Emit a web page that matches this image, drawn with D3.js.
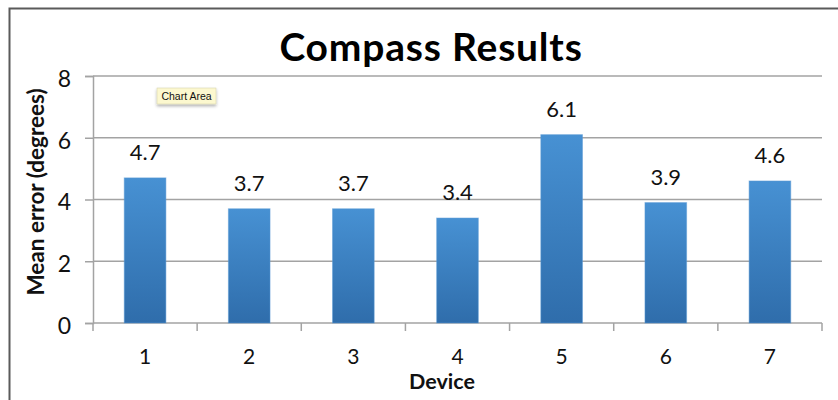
<!DOCTYPE html>
<html>
<head>
<meta charset="utf-8">
<script src="https://cdn.jsdelivr.net/npm/d3@7"></script>
<style>
  html, body { margin: 0; padding: 0; background: #fff; }
  svg { display: block; }
  text { font-family: Lato, "Open Sans", sans-serif; }
</style>
</head>
<body>
<svg id="chart" width="838" height="400"></svg>
<script>
// Compass results: mean heading error per device
const devices = ["1", "2", "3", "4", "5", "6", "7"];
const meanError = [4.7, 3.7, 3.7, 3.4, 6.1, 3.9, 4.6];
const yTicks = [0, 2, 4, 6, 8];

const W = 838, H = 400;
const margin = { left: 93, right: 16, top: 76, bottom: 77 };
const svg = d3.select("#chart");

// frame around the chart area
svg.append("path")
  .attr("d", `M9.5,${H} V8.5 H${W}`)
  .attr("fill", "none")
  .attr("stroke", "#5a5a5a")
  .attr("stroke-width", 2);

const x = d3.scaleBand()
  .domain(devices)
  .range([margin.left, W - margin.right])
  .paddingInner(0.6)
  .paddingOuter(0.3);

const y = d3.scaleLinear()
  .domain([0, 8])
  .range([H - margin.bottom, margin.top]);

// bar fill gradient
const defs = svg.append("defs");
const grad = defs.append("linearGradient")
  .attr("id", "barFill")
  .attr("x1", 0).attr("y1", 0).attr("x2", 0).attr("y2", 1);
grad.append("stop").attr("offset", "0%").attr("stop-color", "#4791d3");
grad.append("stop").attr("offset", "100%").attr("stop-color", "#2f6dab");

// horizontal gridlines
svg.append("g")
  .selectAll("line")
  .data(yTicks.filter(d => d > 0))
  .join("line")
  .attr("x1", margin.left)
  .attr("x2", W - margin.right)
  .attr("y1", d => y(d))
  .attr("y2", d => y(d))
  .attr("stroke", "#a3a3a3")
  .attr("stroke-width", 1.5);

// y axis
const yAxis = svg.append("g")
  .attr("transform", `translate(${margin.left},0)`)
  .call(d3.axisLeft(y).tickValues(yTicks).tickSize(8).tickPadding(14));
yAxis.select(".domain").attr("stroke", "#a3a3a3").attr("stroke-width", 1.5);
yAxis.selectAll(".tick line").attr("stroke", "#a3a3a3").attr("stroke-width", 1.5);
yAxis.selectAll(".tick text")
  .attr("font-size", 23)
  .attr("fill", "#111")
  .attr("dy", "0.45em")
  .style("font-family", "Lato, sans-serif");

// x axis: ticks at category boundaries
const xAxisG = svg.append("g")
  .attr("transform", `translate(0,${y(0)})`);
xAxisG.append("line")
  .attr("x1", margin.left)
  .attr("x2", W - margin.right)
  .attr("stroke", "#a3a3a3")
  .attr("stroke-width", 1.5);
const boundaries = devices.map(d => x(d) - x.step() * x.paddingOuter())
  .concat([W - margin.right]);
xAxisG.selectAll("line.tk")
  .data(boundaries)
  .join("line")
  .attr("class", "tk")
  .attr("x1", d => d).attr("x2", d => d)
  .attr("y1", 0).attr("y2", 8)
  .attr("stroke", "#a3a3a3")
  .attr("stroke-width", 1.5);
xAxisG.selectAll("text.lbl")
  .data(devices)
  .join("text")
  .attr("class", "lbl")
  .attr("x", d => x(d) + x.bandwidth() / 2)
  .attr("y", 40.5)
  .attr("text-anchor", "middle")
  .attr("font-size", 21)
  .attr("fill", "#111")
  .text(d => d);

// bars
svg.append("g")
  .selectAll("rect")
  .data(meanError)
  .join("rect")
  .attr("x", (d, i) => x(devices[i]))
  .attr("width", x.bandwidth())
  .attr("y", d => y(d))
  .attr("height", d => y(0) - y(d))
  .attr("fill", "url(#barFill)")
  .attr("stroke", "#5a9ad6")
  .attr("stroke-opacity", 0.5)
  .attr("stroke-width", 1);

// value labels
svg.append("g")
  .selectAll("text")
  .data(meanError)
  .join("text")
  .attr("x", (d, i) => x(devices[i]) + x.bandwidth() / 2)
  .attr("y", d => y(d) - 18)
  .attr("text-anchor", "middle")
  .attr("font-size", 22)
  .attr("fill", "#111")
  .text(d => d.toFixed(1));

// title
svg.append("text")
  .attr("x", 431)
  .attr("y", 61)
  .attr("text-anchor", "middle")
  .attr("font-size", 39)
  .attr("letter-spacing", 0.8)
  .attr("font-weight", "bold")
  .attr("fill", "#000")
  .text("Compass Results");

// axis titles
svg.append("text")
  .attr("x", 442)
  .attr("y", 389)
  .attr("text-anchor", "middle")
  .attr("font-size", 21.5)
  .attr("font-weight", "bold")
  .attr("fill", "#111")
  .text("Device");

svg.append("text")
  .attr("transform", `translate(44,${192}) rotate(-90)`)
  .attr("text-anchor", "middle")
  .attr("font-size", 22.5)
  .attr("font-weight", "bold")
  .attr("fill", "#111")
  .text("Mean error (degrees)");

// hover tooltip
const tip = svg.append("g").attr("transform", "translate(157,88)");
defs.append("filter").attr("id", "tipShadow")
  .attr("x", "-20%").attr("y", "-30%").attr("width", "140%").attr("height", "190%")
  .append("feDropShadow")
  .attr("dx", 0).attr("dy", 2).attr("stdDeviation", 1.5)
  .attr("flood-color", "#000").attr("flood-opacity", 0.3);
tip.append("rect")
  .attr("width", 59).attr("height", 16)
  .attr("fill", "#fcf8cf")
  .attr("stroke", "#d8d4b0")
  .attr("stroke-width", 0.6)
  .attr("filter", "url(#tipShadow)");
tip.append("text")
  .attr("x", 29.5).attr("y", 11.8)
  .attr("text-anchor", "middle")
  .attr("font-size", 10.5)
  .attr("fill", "#111")
  .style("font-family", "'Liberation Sans', Arial, sans-serif")
  .text("Chart Area");
</script>
</body>
</html>
